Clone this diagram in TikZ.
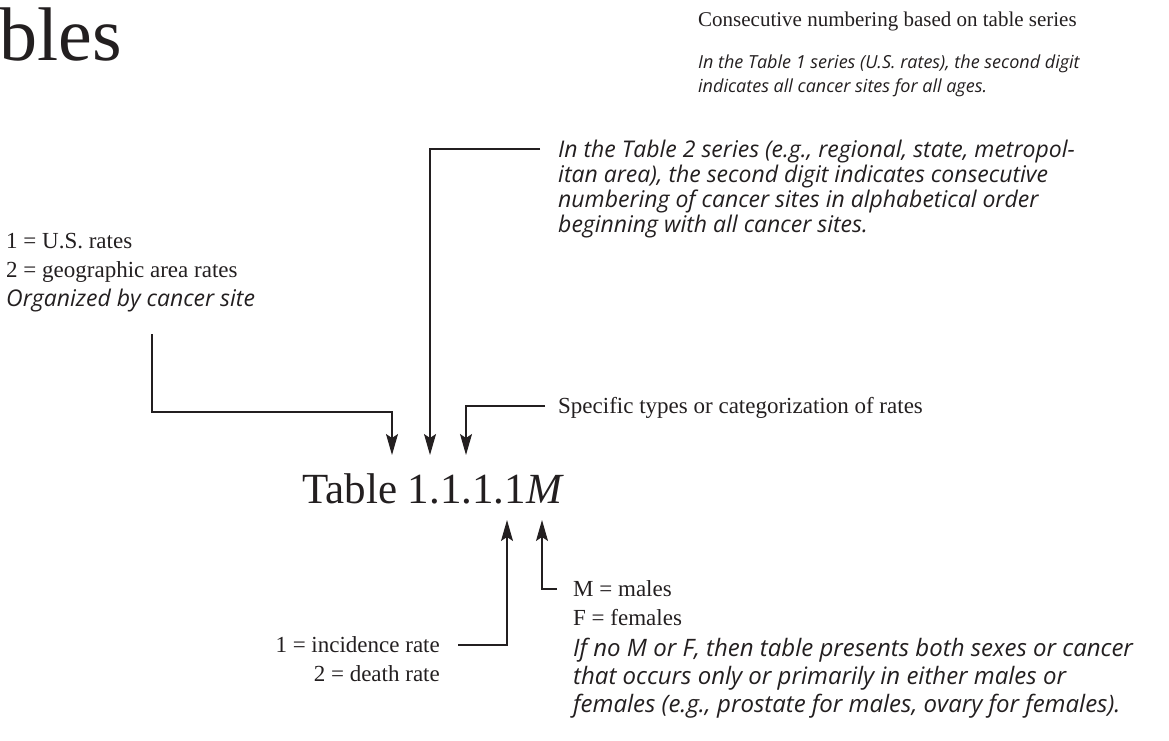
\documentclass[tikz,border=0pt]{standalone}
\usepackage{fontspec}
\setmainfont{Liberation Serif}
\newfontfamily\hum{Open Sans}
\usetikzlibrary{arrows.meta}
\definecolor{ink}{RGB}{35,31,32}
\begin{document}
\begin{tikzpicture}[x=1pt,y=-1pt,
  every node/.style={text=ink},
  lbl/.style={anchor=base west, inner sep=0, font=\fontsize{23}{28}\selectfont},
  lblr/.style={anchor=base east, inner sep=0, font=\fontsize{23}{28}\selectfont},
  note/.style={anchor=base west, inner sep=0, font=\hum\itshape\fontsize{23}{28}\selectfont},
  notebig/.style={anchor=base west, inner sep=0, font=\hum\itshape\fontsize{24}{28}\selectfont},
  toplbl/.style={anchor=base west, inner sep=0, font=\fontsize{21}{26}\selectfont},
  topnote/.style={anchor=base west, inner sep=0, font=\hum\itshape\fontsize{18}{26}\selectfont},
  conn/.style={draw=ink, line width=1.2pt, -{Stealth[length=21pt,width=12pt,inset=4pt]}}]
\useasboundingbox (0,0) rectangle (1169,740);
% title fragment
\node[anchor=base west, inner sep=0, font=\fontsize{76}{80}\selectfont] (bles) at (-1,60) {bles};
% top right
\node[toplbl] (cons) at (698,26) {Consecutive numbering based on table series};
\node[topnote] (t1a) at (698,68) {In the Table 1 series (U.S. rates), the second digit};
\node[topnote] (t1b) at (698,92) {indicates all cancer sites for all ages.};
% table 2 block
\node[note] (t2a) at (558,157) {In the Table 2 series (e.g., regional, state, metropol-};
\node[note] (t2b) at (558,182) {itan area), the second digit indicates consecutive};
\node[note] (t2c) at (558,207) {numbering of cancer sites in alphabetical order};
\node[note] (t2d) at (558,232) {beginning with all cancer sites.};
% specific
\node[lbl] (spec) at (558,413) {Specific types or categorization of rates};
% left block
\node[lbl] (us) at (6,248) {1 = U.S.\ rates};
\node[lbl] (geo) at (6,277) {2 = geographic area rates};
\node[note] (org) at (6,306) {Organized by cancer site};
% main label
\node[anchor=base west, inner sep=0, font=\fontsize{43}{50}\selectfont] (tbl) at (302,503) {Table 1.1.1.1\textit{M}};
% bottom
\node[lbl] (male) at (573,596) {M = males};
\node[lbl] (fem) at (573,625) {F = females};
\node[notebig] (sexa) at (573,656) {If no M or F, then table presents both sexes or cancer};
\node[notebig] (sexb) at (573,684) {that occurs only or primarily in either males or};
\node[notebig] (sexc) at (573,712) {females (e.g., prostate for males, ovary for females).};
\node[lblr] (inc) at (440,652) {1 = incidence rate};
\node[lblr] (dth) at (440,681) {2 = death rate};
% connector points
\coordinate (d1) at (392,455);
\coordinate (d2) at (430,455);
\coordinate (d3) at (466,455);
\coordinate (u4) at (507,520);
\coordinate (u5) at (542,520);
\coordinate (orgS) at (152,334);
\coordinate (t2L) at (540,149);
\coordinate (specL) at (545,406);
\coordinate (incR) at (458,645);
\coordinate (maleL) at (557,589);
% connectors
\draw[conn] (orgS) |- (392,412) -- (d1);
\draw[conn] (t2L) -| (d2);
\draw[conn] (specL) -| (d3);
\draw[conn] (incR) -| (u4);
\draw[conn] (maleL) -| (u5);
\end{tikzpicture}
\end{document}
